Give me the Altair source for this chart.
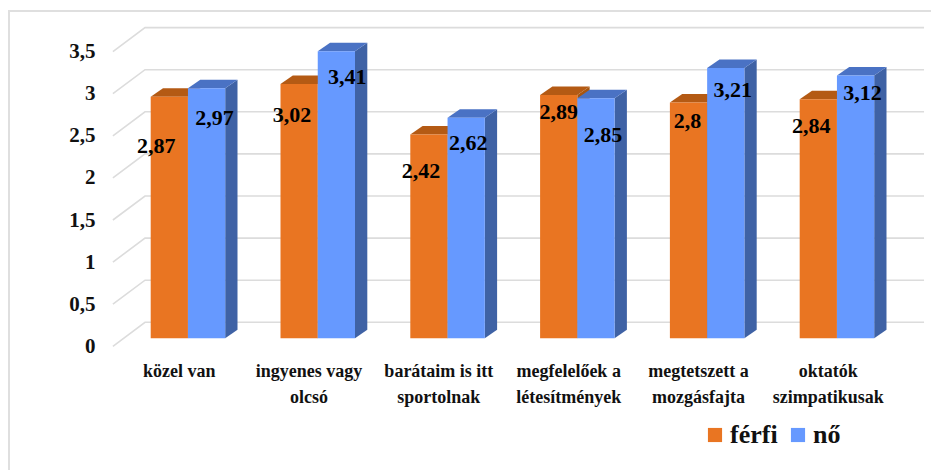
import altair as alt
import pandas as pd

categories = ["közel van", "ingyenes vagy\nolcsó", "barátaim is itt\nsportolnak",
              "megfelelőek a\nlétesítmények", "megtetszett a\nmozgásfajta", "oktatók\nszimpatikusak"]
ferfi = [2.87, 3.02, 2.42, 2.89, 2.8, 2.84]
no = [2.97, 3.41, 2.62, 2.85, 3.21, 3.12]
ticks = [0, 0.5, 1, 1.5, 2, 2.5, 3, 3.5]

# per-label shifts from the bar's centre / top, in pixels
ferfi_label_dx = [-13, -7, -8, 0, -1, -7]
ferfi_label_dy = [49, 31, 36, 17, 18, 27]
no_label_dx = [8, 11, 2, 7, 7, 7]
no_label_dy = [30, 26, 25, 37, 22, 17]

PX_X, PX_Y = 129.8, 84.2           # pixels per group, pixels per value unit
BAR_W = 37.25 / PX_X
DX, DY = 12.3 / PX_X, 8.5 / PX_Y   # bar depth
SERIF = "Liberation Serif"

xs = alt.Scale(domain=[-1.0994, 6.0116], range=[0, 923], nice=False, zero=False)
ys = alt.Scale(domain=[-1.5641, 3.923], range=[462, 0], nice=False, zero=False)
X = alt.X("x:Q", scale=xs, axis=None)
Y = alt.Y("y:Q", scale=ys, title=None, axis=alt.Axis(
    values=ticks, offset=-87, labelOffset=8, tickSize=0, domain=False, grid=False,
    labelPadding=0, labelFont=SERIF, labelFontWeight="bold", labelFontSize=21,
    labelColor="#111111", labelOverlap=False, labelFlush=False,
    labelExpr="replace(format(datum.value,'~g'),'.',',')"))

# gridlines: wall part plus the diagonal on the side wall
grid_rows = []
for t in ticks:
    grid_rows += [
        {"x": -0.2912 , "y": t - 0.095, "t": t},
        {"x": -0.0439, "y": t + 0.19, "t": t},
        {"x": 5.9579, "y": t + 0.19, "t": t},
    ]
grid = alt.Chart(pd.DataFrame(grid_rows)).mark_line(color="#dcdcdc", strokeWidth=1.6).encode(
    x=X, y=Y, detail="t:N", order="x:Q")

def faces(values, shift, name, side_col, top_col):
    front, side, top = [], [], []
    for g, v in enumerate(values):
        l = g + shift
        r = l + BAR_W
        front.append({"x": l, "x2": r, "y": 0, "y2": v, "s": name})
        side += [{"x": r, "y": 0, "y2": v, "id": g},
                 {"x": r + DX, "y": DY, "y2": v + DY, "id": g}]
        top += [{"y": v, "x": l, "x2": r, "id": g},
                {"y": v + DY, "x": l + DX, "x2": r + DX, "id": g}]
    side_l = alt.Chart(pd.DataFrame(side)).mark_area(color=side_col, opacity=1).encode(
        x=X, y=Y, y2="y2:Q", detail="id:N")
    top_l = alt.Chart(pd.DataFrame(top)).mark_area(color=top_col, orient="horizontal", opacity=1).encode(
        y=Y, x=X, x2="x2:Q", detail="id:N")
    front_l = alt.Chart(pd.DataFrame(front)).mark_rect().encode(
        x=X, x2="x2:Q", y=Y, y2="y2:Q",
        color=alt.Color("s:N", scale=alt.Scale(domain=["férfi", "nő"], range=["#E97522", "#6699FF"]),
                        legend=alt.Legend(title=None, orient="none", legendX=694, legendY=414,
                                          direction="horizontal", columns=2, symbolType="square",
                                          symbolSize=200, symbolStrokeWidth=0, labelFont=SERIF,
                                          labelFontWeight="bold", labelFontSize=26, labelColor="#111111",
                                          labelOffset=2, columnPadding=7, symbolOffset=0)))
    return [side_l, top_l, front_l]

label_rows = []
for g in range(6):
    label_rows.append({"x": g + BAR_W / 2 + ferfi_label_dx[g] / PX_X,
                       "y": ferfi[g] - ferfi_label_dy[g] / PX_Y,
                       "t": f"{ferfi[g]:g}".replace(".", ",")})
    label_rows.append({"x": g + BAR_W * 1.5 + no_label_dx[g] / PX_X,
                       "y": no[g] - no_label_dy[g] / PX_Y,
                       "t": f"{no[g]:g}".replace(".", ",")})
labels = alt.Chart(pd.DataFrame(label_rows)).mark_text(
    font=SERIF, fontWeight="bold", fontSize=22, color="#000000", baseline="middle").encode(
    x=X, y=Y, text="t:N")

cat_df = pd.DataFrame({"x": [g + 0.22 for g in range(6)], "y": [-0.29] * 6, "t": categories})
cats = alt.Chart(cat_df).mark_text(
    font=SERIF, fontWeight="bold", fontSize=18, color="#111111", baseline="top",
    lineBreak="\n", lineHeight=26).encode(x=X, y=Y, text="t:N")

frame_left = alt.Chart(pd.DataFrame({"a": [0]})).mark_rule(color="#dfdfdf", strokeWidth=2).encode(
    x=alt.value(1), y=alt.value(3), y2=alt.value(462))
frame_top = alt.Chart(pd.DataFrame({"a": [0]})).mark_rule(color="#dfdfdf", strokeWidth=2).encode(
    y=alt.value(3), x=alt.value(0), x2=alt.value(923))

chart = alt.layer(
    frame_left, frame_top, grid,
    *faces(ferfi, 0, "férfi", "#A8560F", "#B45A14"),
    *faces(no, BAR_W, "nő", "#3F62A5", "#4A72C4"),
    labels, cats,
).properties(
    width=923, height=462, padding=0, background="white",
    autosize=alt.AutoSizeParams(type="none"),
).configure_view(stroke=None)

chart.save("out.html", embed_options={"renderer": "svg", "actions": False})
